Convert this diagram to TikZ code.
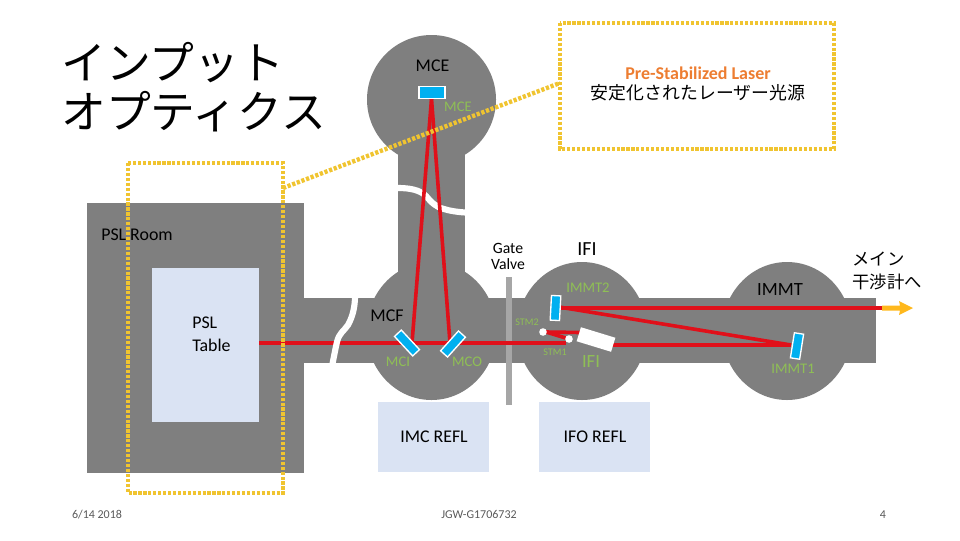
\documentclass[tikz,border=0pt]{standalone}
\usepackage{fontspec}
\setmainfont{Carlito}
\newfontfamily\jp{Noto Sans CJK JP}
\definecolor{vac}{HTML}{7F7F7F}
\definecolor{tablec}{HTML}{DAE3F3}
\definecolor{beam}{HTML}{E0101A}
\definecolor{mir}{HTML}{00B0F0}
\definecolor{lab}{HTML}{8FBF55}
\definecolor{yel}{HTML}{F0C430}
\definecolor{org}{HTML}{ED7D31}
\definecolor{arr}{HTML}{FFB81C}
\definecolor{foot}{HTML}{595959}
\tikzset{
  px/.style={x=0.75pt,y=-0.75pt},
  vacuum/.style={fill=vac,draw=none},
  brk/.style={draw=white,line width=4.6pt,line cap=butt},
  ray/.style={draw=beam,line width=2.7pt},
  mirror/.style={fill=mir,draw=white,line width=1pt,inner sep=0pt,minimum width=#1},
  mirror/.default=20pt,
  dotbox/.style={draw=yel,line width=3.3pt,dash pattern=on 2.4pt off 1.3pt},
  lightbox/.style={fill=tablec,draw=none,inner sep=0pt},
  green/.style={text=lab,inner sep=0pt,font=\fontsize{11}{13}\selectfont},
  blk/.style={text=black,inner sep=0pt,align=center,font=\fontsize{13.4}{16}\selectfont},
  footer/.style={text=foot,inner sep=0pt,anchor=base,font=\fontsize{9}{11}\selectfont},
}
\begin{document}
\begin{tikzpicture}[px]
\useasboundingbox (0,0) rectangle (960,540);
% vacuum envelope
\fill[vacuum] (87,203) rectangle (304,473);
\fill[vacuum] (304,298) rectangle (876,362.5);
\fill[vacuum] (398,150) rectangle (465,298);
\fill[vacuum] (431.5,99.5) circle [radius=64.5];
\fill[vacuum] (431.5,331) ellipse [x radius=65,y radius=69];
\fill[vacuum] (582,331) ellipse [x radius=65,y radius=69];
\fill[vacuum] (787,331) ellipse [x radius=65,y radius=69];
% white cut of the MCE duct
\draw[brk] (398,188) .. controls (410,188) and (420,190) .. (426,196) .. controls (432,203) and (436,207) .. (444,209) .. controls (450,211) and (458,212) .. (465,212.5);
% tables
\node[lightbox,minimum width=80.25pt,minimum height=115.5pt] (table) at (205.5,345) {};
\node[lightbox,minimum width=83.25pt,minimum height=52.5pt] (imcrefl) at (433.5,437) {};
\node[lightbox,minimum width=83.25pt,minimum height=52.5pt] (iforefl) at (594.5,437) {};
% gate valve
\fill[fill=black!35] (506,277) rectangle (512,405);
% beam anchors
\coordinate (start) at (259,343);
\coordinate (mci) at (412,343);
\coordinate (mco) at (450,343);
\coordinate (mce) at (431.5,99);
\coordinate (stmend) at (566,343);
\coordinate (stmb) at (569,339);
\coordinate (stmc) at (546,332);
\coordinate (stmd) at (580,332.5);
\coordinate (ifiout) at (612,345);
\coordinate (mt1) at (791,345);
\coordinate (mt2) at (559,307);
\coordinate (mt2b) at (559,308);
\coordinate (out) at (882,308);
% beams
\draw[ray] (start) -- (stmend);
\draw[ray] (mce) -- (mci);
\draw[ray] (mce) -- (mco);
\draw[ray] (stmc) -- (stmb);
\draw[ray] (stmc) -- (stmd);
\draw[ray] (ifiout) -- (mt1);
\draw[ray] (mt1) -- (mt2);
\draw[ray] (mt2b) -- (out);
% output arrow
\fill[arr] (882,305.5) -- (900,305.5) -- (899,301) -- (913,308) -- (899,315) -- (900,310.5) -- (882,310.5) -- cycle;
% white cut of the PSL duct
\draw[brk] (355,296) .. controls (355,306) and (353,316) .. (348,325) .. controls (344,331) and (339,333) .. (337,342) .. controls (335,350) and (334,357) .. (332,366);
% mirrors
\node[mirror=20pt,minimum height=9pt,line width=1.4pt] (mceM) at (432,92.5) {};
\node[mirror=20pt,minimum height=7pt,rotate=-47] (mciM) at (407,343) {};
\node[mirror=20pt,minimum height=7pt,rotate=48] (mcoM) at (453,344) {};
\node[mirror=7pt,minimum height=18.5pt,rotate=-3] (imt2M) at (555.5,308) {};
\node[mirror=7pt,minimum height=19pt,rotate=-9] (imt1M) at (797,346) {};
% STM and IFI
\fill[white] (543,332) circle [radius=3.8];
\fill[white] (569,339) circle [radius=3.8];
\node[fill=white,inner sep=0pt,minimum width=27pt,minimum height=11pt,rotate=-17] (ifibox) at (596,339.5) {};
% yellow frames
\draw[dotbox] (128,163) rectangle (283,493);
\draw[dotbox] (560,23) rectangle (834,149);
\draw[dotbox] (283,188) -- (560,83);
% title
\node[inner sep=0pt,anchor=west,font=\jp\fontsize{33.6}{40}\selectfont] (title1) at (61,63) {インプット};
\node[inner sep=0pt,anchor=west,font=\jp\fontsize{33.6}{40}\selectfont] (title2) at (61,112) {オプティクス};
% labels
\node[inner sep=0pt,text=org,font=\bfseries\fontsize{13.5}{16}\selectfont] (psl1) at (698,73) {Pre-Stabilized Laser};
\node[inner sep=0pt,font=\jp\fontsize{13.4}{16}\selectfont] (psl2) at (698,93) {安定化されたレーザー光源};
\node[blk] (lmce) at (432.5,65.5) {MCE};
\node[green] (gmce) at (458,106.5) {MCE};
\node[blk,anchor=west] (room) at (101,234.5) {PSL Room};
\node[blk,anchor=west,align=left,font=\fontsize{13.4}{17.2}\selectfont] (tbl) at (192,334) {PSL\\Table};
\node[blk,font=\fontsize{11.8}{12}\selectfont] (gate) at (508,256) {Gate\\Valve};
\node[blk,font=\fontsize{15}{18}\selectfont] (ifi) at (587,249) {IFI};
\node[green] (immt2) at (588,288) {IMMT2};
\node[blk,font=\fontsize{14}{17}\selectfont] (immt) at (780,290) {IMMT};
\node[inner sep=0pt,align=left,font=\jp\fontsize{13}{17.2}\selectfont] (main) at (887,270.5) {メイン\\干渉計へ};
\node[blk,font=\fontsize{13.5}{16}\selectfont] (mcf) at (387,316) {MCF};
\node[green] (lmci) at (398,362) {MCI};
\node[green] (lmco) at (467,362) {MCO};
\node[green,font=\fontsize{7.6}{9}\selectfont] (stm2) at (527,322) {STM2};
\node[green,font=\fontsize{7.6}{9}\selectfont] (stm1) at (555,352) {STM1};
\node[green,font=\fontsize{14}{17}\selectfont] (gifi) at (591,362) {IFI};
\node[green] (immt1) at (793,369) {IMMT1};
\node[blk] (limc) at (434,437) {IMC REFL};
\node[blk] (lifo) at (595,437) {IFO REFL};
\node[footer] (date) at (97,518) {6/14 2018};
\node[footer] (doc) at (479,518) {JGW-G1706732};
\node[footer] (page) at (883,518) {4};
\end{tikzpicture}
\end{document}
